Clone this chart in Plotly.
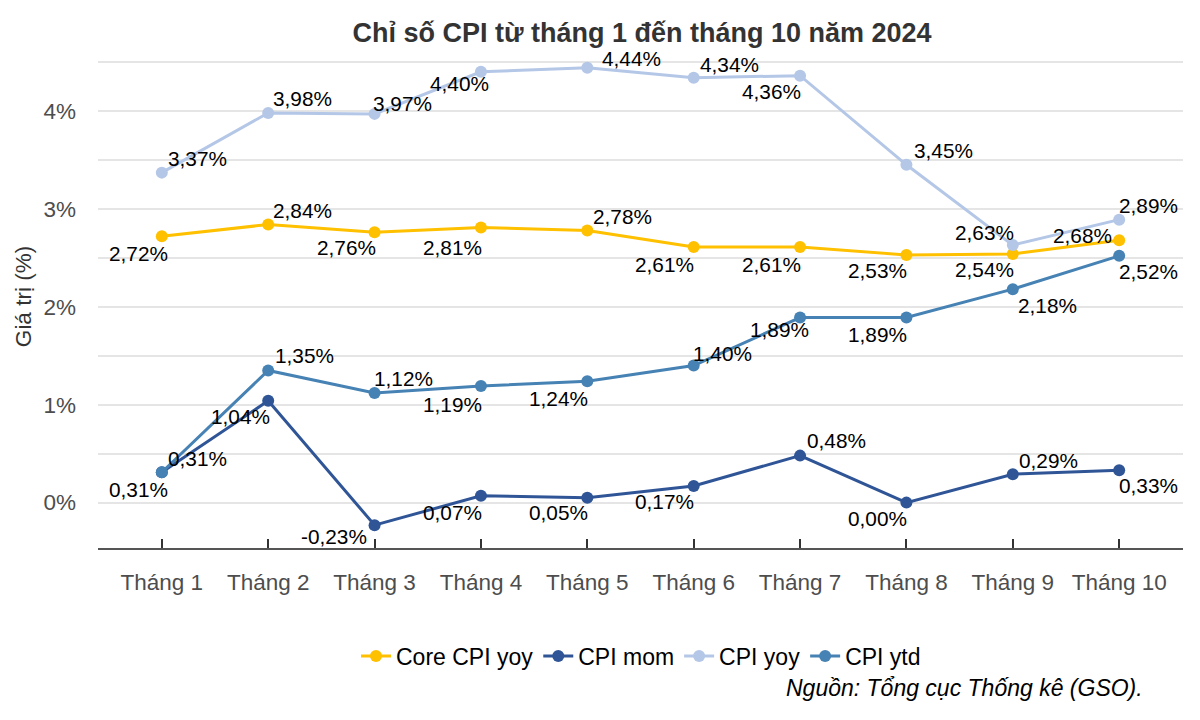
import plotly.graph_objects as go

# Data (% values)
months = ['Tháng 1', 'Tháng 2', 'Tháng 3', 'Tháng 4', 'Tháng 5',
          'Tháng 6', 'Tháng 7', 'Tháng 8', 'Tháng 9', 'Tháng 10']
core_cpi_yoy = [2.72, 2.84, 2.76, 2.81, 2.78, 2.61, 2.61, 2.53, 2.54, 2.68]
cpi_mom = [0.31, 1.04, -0.23, 0.07, 0.05, 0.17, 0.48, 0.00, 0.29, 0.33]
cpi_yoy = [3.37, 3.98, 3.97, 4.40, 4.44, 4.34, 4.36, 3.45, 2.63, 2.89]
cpi_ytd = [0.31, 1.35, 1.12, 1.19, 1.24, 1.40, 1.89, 1.89, 2.18, 2.52]

series = [
    ('Core CPI yoy', core_cpi_yoy, '#FFC000'),
    ('CPI mom', cpi_mom, '#2F5597'),
    ('CPI yoy', cpi_yoy, '#B4C7E7'),
    ('CPI ytd', cpi_ytd, '#4682B4'),
]

# label offsets in px (dx right, dy down), repel-style placement
label_offsets = {
    'Core CPI yoy': [(-23, 17), (34, -14), (-28, 15), (-28, 20), (35, -14),
                     (-29, 17), (-29, 17), (-29, 16), (-28, 16), (-37, -5)],
    'CPI mom': [(36, -14), (-28, 16), (-41, 11), (-28, 17), (-29, 15),
                (-29, 16), (36, -15), (-29, 16), (36, -14), (29, 15)],
    'CPI yoy': [(36, -14), (34, -14), (28, -10), (-21, 12), (44, -9),
                (36, -13), (-29, 16), (37, -14), (-28, -13), (29, -14)],
    'CPI ytd': [(-23, 17), (36, -15), (29, -14), (-28, 18), (-29, 17),
                (29, -12), (-21, 12), (-29, 17), (35, 16), (29, 16)],
}

FONT = 'Liberation Sans, Arial, sans-serif'
x_idx = list(range(len(months)))

# page has an 8px body margin; plot area wanted at page px x 98..1183, y 45..548
PX0, PX1, PY0, PY1 = 98, 1183, 45, 548


def px_x(x):
    return (x - PX0) / (PX1 - PX0)


def px_y(y):
    return (PY1 - y) / (PY1 - PY0)


fig = go.Figure()
annotations = []
for name, vals, color in series:
    fig.add_trace(go.Scatter(
        x=x_idx, y=vals, mode='lines+markers', name=name,
        line=dict(color=color, width=3),
        marker=dict(color=color, size=12),
    ))
    for i, v in enumerate(vals):
        dx, dy = label_offsets[name][i]
        annotations.append(dict(
            x=i, y=v, xref='x', yref='y',
            text=f"{v:.2f}".replace('.', ',') + '%',
            showarrow=False, xshift=dx, yshift=-dy,
            font=dict(family=FONT, size=20.8, color='#000000'),
        ))

annotations.append(dict(
    x=px_x(1145), y=px_y(688), xref='paper', yref='paper',
    xanchor='right', yanchor='middle',
    text='<i>Nguồn: Tổng cục Thống kê (GSO).</i>', showarrow=False,
    font=dict(family=FONT, size=23, color='#000000'),
))

fig.update_layout(
    width=1200, height=720,
    paper_bgcolor='white', plot_bgcolor='white',
    margin=dict(l=PX0 - 8, r=1200 - (PX1 - 8), t=PY0 - 8, b=720 - (PY1 - 8)),
    font=dict(family=FONT, size=22, color='#4D4D4D'),
    title=dict(text='<b>Chỉ số CPI từ tháng 1 đến tháng 10 năm 2024</b>',
               x=px_x(642), xref='paper', xanchor='center',
               y=1 - (33 - 8) / 720, yanchor='middle',
               font=dict(family=FONT, size=27, color='#333333')),
    xaxis=dict(
        range=[-0.6, 9.6], tickvals=x_idx, ticktext=months,
        showgrid=False, zeroline=False,
        showline=True, linecolor='#555555', linewidth=2,
        ticks='inside', ticklen=9, tickwidth=2, tickcolor='#333333',
        ticklabelstandoff=13,
        tickfont=dict(size=22.5, color='#4D4D4D'),
    ),
    yaxis=dict(
        range=[-0.4635, 4.6735], tickvals=[0, 1, 2, 3, 4],
        ticktext=['0%', '1%', '2%', '3%', '4%'],
        showgrid=True, gridcolor='#E5E5E5', gridwidth=2,
        minor=dict(tickvals=[0.5, 1.5, 2.5, 3.5, 4.5], showgrid=True,
                   gridcolor='#E5E5E5', gridwidth=2),
        zeroline=False, showline=False, ticks='',
        ticklabelstandoff=21,
        tickfont=dict(size=22.5, color='#4D4D4D'),
        title=dict(text='Giá trị (%)', standoff=5,
                   font=dict(size=22.5, color='#333333')),
    ),
    legend=dict(orientation='h', x=px_x(641), xanchor='center',
                y=px_y(656), yanchor='middle',
                font=dict(size=23, color='#000000'), itemwidth=30,
                tracegroupgap=0),
    annotations=annotations,
)

fig.write_html("out.html")
